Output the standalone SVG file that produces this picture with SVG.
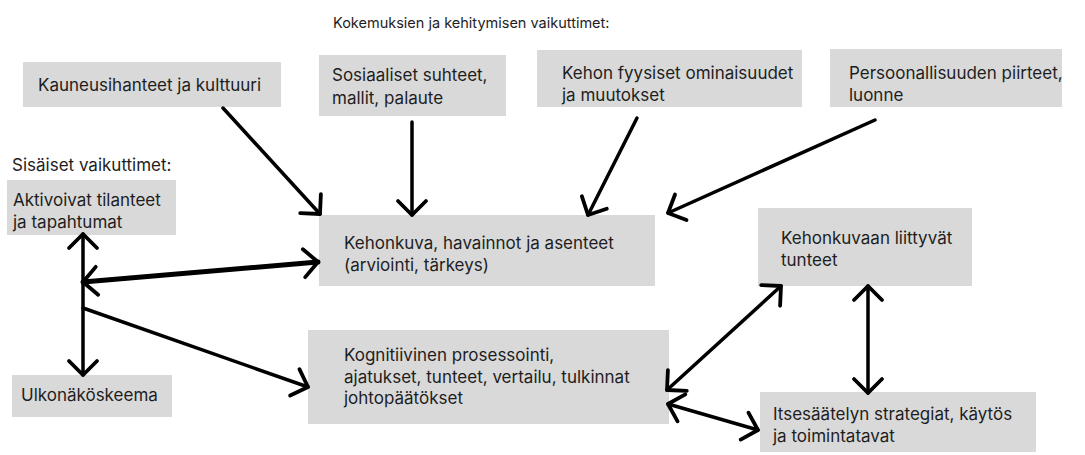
<svg xmlns="http://www.w3.org/2000/svg" width="1085" height="455" viewBox="0 0 1085 455">
<style>
.box{fill:#d9d9d9;}
.t{font-family:Inter,"Liberation Sans",sans-serif;font-size:17px;fill:#1e1e1e;}
.h{font-family:Inter,"Liberation Sans",sans-serif;font-size:14.5px;fill:#1e1e1e;}
.c{fill:none;stroke:#000;stroke-width:3.5;stroke-linecap:round;marker-end:url(#ah);}
.b{marker-start:url(#ah);}
</style>
<defs>
<marker id="ah" markerUnits="userSpaceOnUse" markerWidth="30" markerHeight="30" refX="20" refY="15" orient="auto-start-reverse" overflow="visible">
<path d="M6,1 L20,15 L6,29" fill="none" stroke="#000" stroke-width="3.8" stroke-linecap="round" stroke-linejoin="round"/>
</marker>
</defs>
<text class="h" x="333" y="28">Kokemuksien ja kehitymisen vaikuttimet:</text>
<text class="t" x="12" y="171">Sisäiset vaikuttimet:</text>
<g id="kauneus"><rect class="box" x="23" y="62" width="258" height="45"/><text class="t" x="38" y="91">Kauneusihanteet ja kulttuuri</text></g>
<g id="sosiaaliset"><rect class="box" x="319" y="55" width="187" height="61"/><text class="t" x="332" y="81">Sosiaaliset suhteet,</text><text class="t" x="332" y="103.5">mallit, palaute</text></g>
<g id="kehon"><rect class="box" x="537" y="50" width="265" height="57"/><text class="t" x="562" y="78.5">Kehon fyysiset ominaisuudet</text><text class="t" x="562" y="100.5">ja muutokset</text></g>
<g id="persoonallisuus"><rect class="box" x="830" y="49" width="232" height="58"/><text class="t" x="849" y="78.5">Persoonallisuuden piirteet,</text><text class="t" x="849" y="100.5">luonne</text></g>
<g id="aktivoivat"><rect class="box" x="7" y="180" width="169" height="55"/><text class="t" x="13" y="206">Aktivoivat tilanteet</text><text class="t" x="13" y="228">ja tapahtumat</text></g>
<g id="ulkonako"><rect class="box" x="12" y="375" width="160" height="42"/><text class="t" x="21" y="401">Ulkonäköskeema</text></g>
<g id="kehonkuva"><rect class="box" x="319" y="215" width="336" height="71"/><text class="t" x="344" y="249">Kehonkuva, havainnot ja asenteet</text><text class="t" x="344" y="270.5">(arviointi, tärkeys)</text></g>
<g id="kognitiivinen"><rect class="box" x="308" y="330" width="361" height="94"/><text class="t" x="344" y="361">Kognitiivinen prosessointi,</text><text class="t" x="344" y="382.5">ajatukset, tunteet, vertailu, tulkinnat</text><text class="t" x="344" y="404">johtopäätökset</text></g>
<g id="tunteet"><rect class="box" x="758" y="208" width="214" height="78"/><text class="t" x="781" y="244">Kehonkuvaan liittyvät</text><text class="t" x="781" y="265.5">tunteet</text></g>
<g id="itsesaately"><rect class="box" x="760" y="392" width="276" height="60"/><text class="t" x="773" y="419.5">Itsesäätelyn strategiat, käytös</text><text class="t" x="773" y="441.5">ja toimintatavat</text></g>
<g id="connectors">
<path class="c" d="M223,108 L320,214"/>
<path class="c" d="M412,122 L412,215"/>
<path class="c" d="M637,118 L588,215"/>
<path class="c" d="M875,120 L668,213"/>
<path class="c b" d="M83,375 L83,234"/>
<path class="c b" style="stroke-width:5" d="M83,282 L318,262"/>
<path class="c" d="M83,308 L308,387"/>
<path class="c b" d="M667,390 L781,286"/>
<path class="c b" d="M868,393 L868,286"/>
<path class="c b" d="M668,404 L758,430"/>
</g>
</svg>
